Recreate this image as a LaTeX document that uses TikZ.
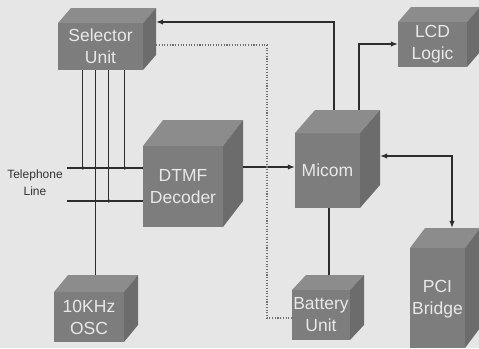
\documentclass[tikz,border=0pt]{standalone}
\usepackage{fontspec}
\setmainfont{Liberation Sans}
\usetikzlibrary{arrows.meta,calc}
\definecolor{bg}{RGB}{230,230,230}
\definecolor{cfront}{RGB}{125,125,125}
\definecolor{ctop}{RGB}{140,140,140}
\definecolor{cside}{RGB}{108,108,108}
\definecolor{ctext}{RGB}{232,232,232}
\definecolor{cline}{RGB}{45,45,45}
\definecolor{cdot}{RGB}{110,110,110}
\tikzset{
  cube/.style 2 args={rectangle, inner sep=0pt, draw=none,
    path picture={
      \coordinate (SW) at (path picture bounding box.south west);
      \coordinate (NE) at (path picture bounding box.north east);
      \fill[cfront] (SW) rectangle ($(NE)+(-#1pt,-#2pt)$);
      \fill[ctop] ($(SW|-NE)+(0pt,-#2pt)$) -- ($(SW|-NE)+(#1pt,0pt)$) -- (NE) -- ($(NE)+(-#1pt,-#2pt)$) -- cycle;
      \fill[cside] ($(NE)+(-#1pt,-#2pt)$) -- (NE) -- ($(NE|-SW)+(0pt,#2pt)$) -- ($(NE|-SW)+(-#1pt,0pt)$) -- cycle;
    }},
  cubetext/.style={text=ctext, font=\fontsize{17.5}{22}\selectfont, align=center, inner sep=0pt},
  conn/.style={draw=cline, line width=1.2pt},
  arr/.style={conn, -{Latex[length=7pt,width=5.5pt]}},
  darr/.style={conn, {Latex[length=7pt,width=5.5pt]}-{Latex[length=7pt,width=5.5pt]}},
  dotline/.style={draw=cdot, line width=1.1pt, dash pattern=on 1.1pt off 1.6pt},
  jdot/.style={circle, fill=cline, inner sep=0pt, minimum size=3.5pt},
  lbl/.style={text=black!80, font=\fontsize{12}{17}\selectfont, align=center, inner sep=0pt}
}
\begin{document}
\begin{tikzpicture}[x=1pt,y=-1pt]
\fill[bg] (0,0) rectangle (479,348);
\useasboundingbox (0,0) rectangle (479,348);

% cubes
\node[cube={13}{15}, minimum width=98pt, minimum height=62pt] (sel) at (107,39) {};
\node[cubetext] (selT) at ($(sel.center)+(-6.5pt,-7.5pt)$) {Selector\\Unit};

\node[cube={20}{26}, minimum width=100pt, minimum height=107pt] (dtmf) at (193,173.5) {};
\node[cubetext] (dtmfT) at ($(dtmf.center)+(-10pt,-13pt)$) {DTMF\\Decoder};

\node[cube={20}{23}, minimum width=85pt, minimum height=98pt] (mic) at (337.5,159) {};
\node[cubetext] (micT) at ($(mic.center)+(-10pt,-11.5pt)$) {Micom};

\node[cube={13}{15}, minimum width=82pt, minimum height=60pt] (lcd) at (439,37) {};
\node[cubetext] (lcdT) at ($(lcd.center)+(-6.5pt,-7.5pt)$) {LCD\\Logic};

\node[cube={15}{20}, minimum width=70pt, minimum height=120pt] (pci) at (445,288) {};
\node[cubetext] (pciT) at ($(pci.center)+(-7.5pt,-11pt)$) {PCI\\Bridge};

\node[cube={14}{17}, minimum width=84pt, minimum height=67pt] (osc) at (96,308.5) {};
\node[cubetext] (oscT) at ($(osc.center)+(-7pt,-8.5pt)$) {10KHz\\OSC};

\node[cube={14}{15}, minimum width=72pt, minimum height=65pt] (bat) at (328,307.5) {};
\node[cubetext] (batT) at ($(bat.center)+(-7pt,-7.5pt)$) {Battery\\Unit};

% telephone line
\node[lbl] (tel) at (35,183) {Telephone\\Line};
\coordinate (tl1) at (67,168);
\coordinate (tl2) at (67,201);
\draw[conn] (tl1) -- (tl1 -| dtmf.west);
\draw[conn] (tl2) -- (tl2 -| dtmf.west);

% selector lines
\draw[conn] ([xshift=25pt]sel.south west) -- ([xshift=25pt]sel.south west |- tl1) node[jdot] (j1) {};
\draw[conn] ([xshift=38pt]sel.south west) -- ([xshift=38pt]sel.south west |- osc.north);
\draw[conn] ([xshift=51pt]sel.south west) -- ([xshift=51pt]sel.south west |- tl2) node[jdot] (j2) {};
\draw[conn] ([xshift=67pt]sel.south west) -- ([xshift=67pt]sel.south west |- tl1) node[jdot] (j3) {};

% DTMF -> Micom
\draw[arr] ([yshift=6.5pt]dtmf.east) -- ([yshift=6.5pt]dtmf.east -| mic.west);

% Micom -> Selector
\draw[arr] ([xshift=-3.5pt]mic.north) |- ([yshift=17pt]sel.east);

% Micom -> LCD
\draw[arr] ([xshift=21.5pt]mic.north) |- ([yshift=-7pt]lcd.west);

% Micom <-> PCI
\draw[darr] ([yshift=3pt]mic.east) -| ([xshift=7pt]pci.north);

% Micom -- Battery
\draw[conn] ([xshift=-8.5pt]mic.south) -- ([xshift=-8.5pt]mic.south |- bat.north);

% dotted selector -> battery
\coordinate (dc) at (267,318);
\draw[dotline] ([yshift=-6pt]sel.east) -| (dc) -- (dc -| bat.west);
\end{tikzpicture}
\end{document}
